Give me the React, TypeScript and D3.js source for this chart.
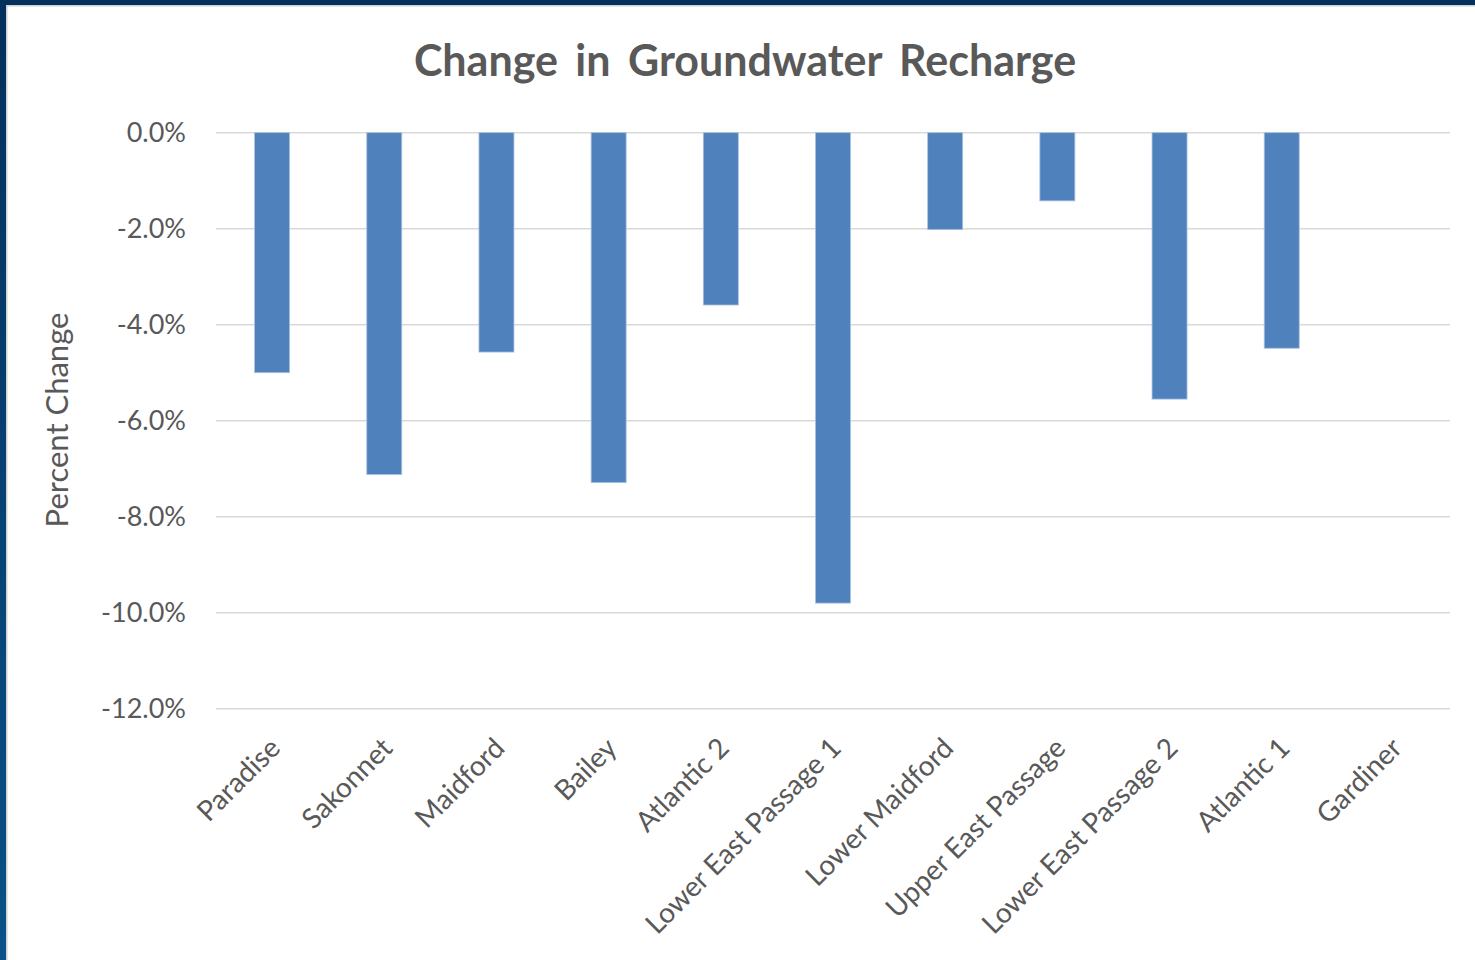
import React from "react";
import * as d3 from "d3";

const categories = [
  "Paradise",
  "Sakonnet",
  "Maidford",
  "Bailey",
  "Atlantic 2",
  "Lower East Passage 1",
  "Lower Maidford",
  "Upper East Passage",
  "Lower East Passage 2",
  "Atlantic 1",
  "Gardiner",
];
const values = [-5.0, -7.12, -4.57, -7.29, -3.59, -9.8, -2.02, -1.42, -5.55, -4.49, 0];
const yTicks = [0, -2, -4, -6, -8, -10, -12];

const W = 1475;
const H = 960;
const FONT = "Lato, 'Open Sans', sans-serif";

export default function App() {
  const x = d3.scaleBand<string>().domain(categories).range([216, 1450]).paddingInner(0).paddingOuter(0);
  const y = d3.scaleLinear().domain([0, -12]).range([132.7, 708.7]);
  const barW = 35;
  const fmt = (v: number) => (v < 0 ? "-" : "") + Math.abs(v).toFixed(1) + "%";

  return (
    <svg width={W} height={H} style={{ position: "absolute", left: 0, top: 0, background: "#fff" }}>
      <defs>
        <linearGradient id="lb" x1="0" y1="0" x2="0" y2="1">
          <stop offset="0" stopColor="#03305c" />
          <stop offset="1" stopColor="#0a5288" />
        </linearGradient>
      </defs>
      <rect x={0} y={0} width={W} height={H} fill="#fff" />
      <rect x={0} y={0} width={W} height={5} fill="#03305c" />
      <rect x={0} y={0} width={6} height={H} fill="url(#lb)" />
      <rect x={6} y={5} width={1.5} height={H - 5} fill="#d0d0d0" />
      <rect x={6} y={5} width={W - 6} height={1.5} fill="#d0d0d0" />

      <text
        x={745}
        y={76}
        textAnchor="middle"
        fontFamily={FONT}
        fontWeight={700}
        fontSize={43}
        wordSpacing={7}
        fill="#595959"
      >
        Change in Groundwater Recharge
      </text>

      {yTicks.map((t) => (
        <g key={t}>
          <line x1={216} x2={1450} y1={y(t)} y2={y(t)} stroke="#d9d9d9" strokeWidth={1.5} />
          <text
            x={186}
            y={y(t)}
            dy="0.35em"
            textAnchor="end"
            fontFamily={FONT}
            fontSize={27}
            fill="#595959"
          >
            {fmt(t)}
          </text>
        </g>
      ))}

      {categories.map((c, i) => {
        const cx = (x(c) as number) + x.bandwidth() / 2;
        const v = values[i];
        if (v === 0) return null;
        return (
          <rect
            key={c}
            x={cx - barW / 2}
            y={y(0)}
            width={barW}
            height={y(v) - y(0)}
            fill="#4f81bd"
            stroke="#a9c1e0"
            strokeWidth={0.8}
          />
        );
      })}

      {categories.map((c) => {
        const cx = (x(c) as number) + x.bandwidth() / 2;
        return (
          <text
            key={c}
            transform={`translate(${cx - 4},${736}) rotate(-45)`}
            textAnchor="end"
            dy="0.7em"
            fontFamily={FONT}
            fontSize={28}
            fill="#595959"
          >
            {c}
          </text>
        );
      })}

      <text
        transform={`translate(${68},${420}) rotate(-90)`}
        textAnchor="middle"
        fontFamily={FONT}
        fontSize={31}
        fill="#595959"
      >
        Percent Change
      </text>
    </svg>
  );
}
